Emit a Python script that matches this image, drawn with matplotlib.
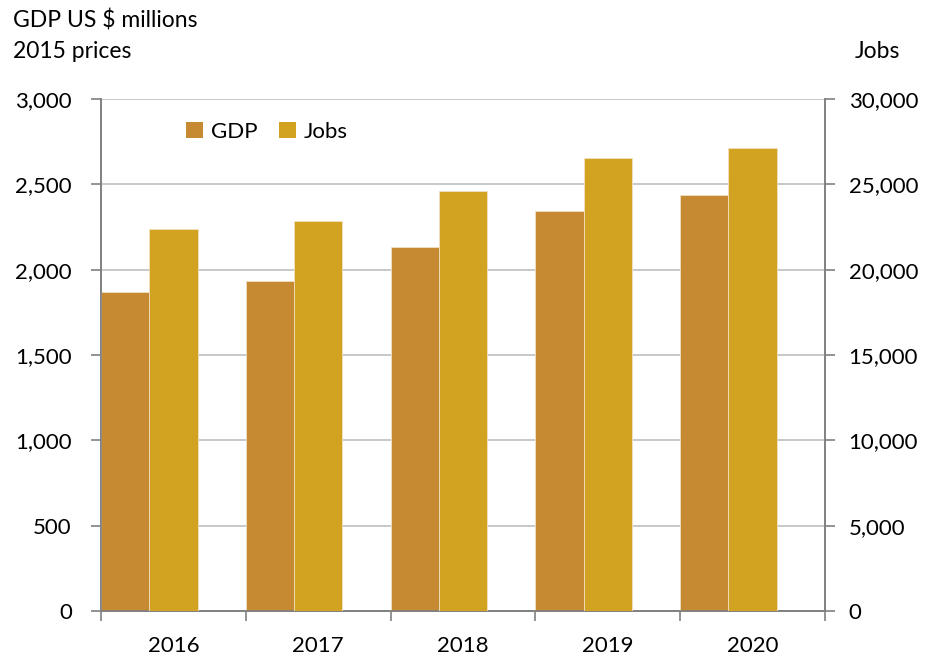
import matplotlib
matplotlib.use('Agg')

import numpy as np
import matplotlib.pyplot as plt
import matplotlib.ticker as ticker
from matplotlib.patches import Patch

years = ['2016', '2017', '2018', '2019', '2020']
gdp = [1870, 1935, 2130, 2345, 2440]
jobs = [22400, 22850, 24600, 26550, 27100]

gdp_colour = '#C68A32'
jobs_colour = '#D2A321'
axis_grey = '#808080'

plt.rcParams['font.family'] = ['Lato', 'DejaVu Sans']
plt.rcParams['font.size'] = 16

fig = plt.figure(figsize=(9.3, 6.57), dpi=100)
ax = fig.add_axes([101 / 930, 1 - 611 / 657, 724 / 930, 512 / 657])
ax2 = ax.twinx()

x = np.arange(len(years))
w = 1 / 3
ax.bar(x - 0.5, gdp, width=w, align='edge', color=gdp_colour,
       edgecolor='#F0E0C0', linewidth=0.6, zorder=3)
ax2.bar(x - 0.5 + w, jobs, width=w, align='edge', color=jobs_colour,
        edgecolor='#F0E0C0', linewidth=0.6, zorder=3)

ax.set_xlim(-0.5, len(years) - 0.5)
ax.set_ylim(0, 3000)
ax2.set_ylim(0, 30000)
ax.set_yticks(np.arange(0, 3001, 500))
ax2.set_yticks(np.arange(0, 30001, 5000))
ax.yaxis.set_major_formatter(ticker.FuncFormatter(lambda v, p: f'{v:,.0f}'))
ax2.yaxis.set_major_formatter(ticker.FuncFormatter(lambda v, p: f'{v:,.0f}'))

ax.grid(axis='y', color='#BFBFBF', linewidth=1.2, zorder=0)
ax.set_axisbelow(True)

# category boundaries get the ticks, year labels sit between them
ax.set_xticks(np.arange(-0.5, len(years), 1))
ax.set_xticklabels([])
ax.set_xticks(x, minor=True)
ax.set_xticklabels(years, minor=True)
ax.tick_params(axis='x', which='major', direction='out', length=7, color=axis_grey, width=1.2)
ax.tick_params(axis='x', which='minor', length=0, pad=18)
ax.tick_params(axis='y', direction='out', length=7, color=axis_grey, width=1.2, pad=14)
ax2.tick_params(axis='y', direction='out', length=7, color=axis_grey, width=1.2, pad=10)

for a in (ax, ax2):
    a.spines['top'].set_visible(False)
    for s in ('left', 'right', 'bottom'):
        a.spines[s].set_color(axis_grey)
        a.spines[s].set_linewidth(1.2)

fig.text(13 / 930, 1 - 20 / 657, 'GDP US $ millions', ha='left', va='center', fontsize=16.5)
fig.text(13 / 930, 1 - 52 / 657, '2015 prices', ha='left', va='center', fontsize=16.5)
fig.text(877 / 930, 1 - 52 / 657, 'Jobs', ha='center', va='center', fontsize=16.5)

handles = [Patch(facecolor=gdp_colour, label='GDP'),
           Patch(facecolor=jobs_colour, label='Jobs')]
ax2.legend(handles=handles, ncol=2, frameon=False, loc='upper left',
           bbox_to_anchor=(0.09, 0.995), handlelength=0.75, handleheight=0.75,
           handletextpad=0.35, columnspacing=1.0, fontsize=16)

fig.savefig('out.png', dpi=100)
